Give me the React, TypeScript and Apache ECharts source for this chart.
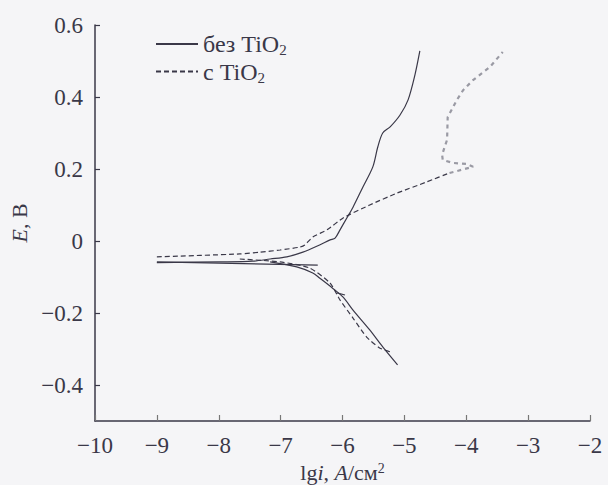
import React, { useEffect, useRef } from "react";
import * as echarts from "echarts";

// lg i (A/cm^2), E (V)
const solidFit: [number, number][] = [
  [-9.0, -0.058], [-6.4, -0.067],
];
const solidAnodic: [number, number][] = [
  [-9.0, -0.06], [-7.98, -0.058], [-7.45, -0.056], [-7.17, -0.05], [-6.9, -0.044],
  [-6.64, -0.031], [-6.37, -0.011], [-6.2, 0.003], [-6.12, 0.008], [-6.04, 0.031],
  [-5.93, 0.064], [-5.83, 0.094], [-5.67, 0.15], [-5.51, 0.206], [-5.43, 0.261],
  [-5.35, 0.3], [-5.23, 0.317], [-5.07, 0.35], [-4.94, 0.392], [-4.83, 0.461],
  [-4.75, 0.528],
];
const solidCathodic: [number, number][] = [
  [-7.17, -0.058], [-6.74, -0.072], [-6.48, -0.089], [-6.37, -0.103], [-6.16, -0.131],
  [-5.99, -0.156], [-5.83, -0.192], [-5.56, -0.247], [-5.35, -0.294], [-5.11, -0.344],
];
const solidMark: [number, number][] = [
  [-6.09, -0.144], [-5.96, -0.15],
];
const dashedAnodic: [number, number][] = [
  [-9.0, -0.044], [-7.66, -0.036], [-7.33, -0.031], [-7.01, -0.025], [-6.69, -0.017],
  [-6.61, -0.011], [-6.48, 0.011], [-6.25, 0.031], [-5.99, 0.064], [-5.56, 0.1],
  [-5.12, 0.133], [-4.64, 0.164], [-4.27, 0.189],
];
const dashedLoop: [number, number][] = [
  [-4.27, 0.189], [-3.89, 0.206], [-3.99, 0.214], [-4.22, 0.217], [-4.38, 0.225],
  [-4.39, 0.239], [-4.35, 0.261], [-4.31, 0.281], [-4.3, 0.344], [-4.15, 0.392],
  [-4.05, 0.419], [-3.89, 0.447], [-3.62, 0.483], [-3.41, 0.525],
];
const dashedCathodic: [number, number][] = [
  [-7.66, -0.05], [-7.01, -0.058], [-6.53, -0.075], [-6.2, -0.117], [-6.04, -0.164],
  [-5.83, -0.214], [-5.61, -0.267], [-5.4, -0.297], [-5.23, -0.308],
];
const yTickValues = [-0.4, -0.2, 0, 0.2, 0.4, 0.6];
const seriesNames = ["без TiO2", "с TiO2"];

const FONT = "Liberation Serif";
const INK = "#3a3848";

export default function App() {
  const ref = useRef<HTMLDivElement>(null);
  useEffect(() => {
    if (!ref.current) return;
    const chart = echarts.init(ref.current, undefined, { renderer: "svg" });
    const solidStyle = { color: INK, width: 1.2, type: "solid" as const };
    const dashStyle = { color: INK, width: 1.2, type: [5, 3] };
    const mk = (name: string, data: [number, number][], lineStyle: any, smooth = 0) => ({
      type: "line",
      name,
      data,
      smooth,
      showSymbol: false,
      symbol: "none",
      lineStyle,
      itemStyle: { color: lineStyle.color },
      silent: true,
    });
    chart.setOption({
      animation: false,
      backgroundColor: "#f5f5f7",
      textStyle: { fontFamily: FONT },
      grid: { left: 95, right: 18, top: 25, bottom: 64, containLabel: false, outerBoundsMode: "none" },
      legend: {
        data: seriesNames,
        orient: "vertical",
        left: 155,
        top: 32,
        padding: 0,
        itemWidth: 42,
        itemHeight: 14,
        itemGap: 2,
        itemStyle: { opacity: 0, borderWidth: 0 },
        formatter: (n: string) => `{n|${n.slice(0, -1)}}{sub|2}`,
        textStyle: {
          color: INK,
          fontFamily: FONT,
          fontSize: 24,
          rich: {
            n: { fontFamily: FONT, fontSize: 24, color: INK, lineHeight: 27 },
            sub: { fontFamily: FONT, fontSize: 15, color: INK, lineHeight: 15, verticalAlign: "bottom" },
          },
        },
      },
      xAxis: {
        type: "value",
        min: -10,
        max: -2,
        interval: 1,
        name: "{n|lg}{i|i}{n|, }{i|A}{n|/см}{sup|2}",
        nameLocation: "middle",
        nameGap: 39,
        nameTextStyle: {
          fontFamily: FONT,
          fontSize: 22,
          color: INK,
          rich: {
            n: { fontFamily: FONT, fontSize: 22, color: INK, lineHeight: 22 },
            i: { fontFamily: FONT, fontSize: 22, color: INK, fontStyle: "italic", lineHeight: 22 },
            sup: { fontFamily: FONT, fontSize: 14, color: INK, lineHeight: 10, verticalAlign: "top" },
          },
        },
        axisLine: { onZero: false, lineStyle: { color: INK, width: 1.5 } },
        axisTick: { inside: true, length: 6, lineStyle: { color: "#777", width: 1.2 } },
        axisLabel: {
          fontFamily: FONT,
          fontSize: 23,
          color: INK,
          margin: 13,
          formatter: (v: number) => (v < 0 ? "\u2212" + Math.abs(v) : String(v)),
        },
        splitLine: { show: false },
      },
      yAxis: {
        type: "value",
        min: -0.5,
        max: 0.6,
        name: "{i|E}{n|, B}",
        nameLocation: "middle",
        nameGap: 58,
        nameTextStyle: {
          fontFamily: FONT,
          fontSize: 22,
          color: INK,
          rich: {
            n: { fontFamily: FONT, fontSize: 22, color: INK },
            i: { fontFamily: FONT, fontSize: 22, color: INK, fontStyle: "italic" },
          },
        },
        axisLine: { show: true, onZero: false, lineStyle: { color: INK, width: 1.5 } },
        axisTick: { show: true, inside: true, length: 5, customValues: yTickValues, lineStyle: { color: INK, width: 1.2 } },
        axisLabel: {
          fontFamily: FONT,
          fontSize: 23,
          color: INK,
          margin: 12,
          customValues: yTickValues,
          formatter: (v: number) =>
            Math.abs(v) < 1e-9 ? "0" : v < 0 ? "\u2212" + Math.abs(v).toFixed(1) : v.toFixed(1),
        },
        splitLine: { show: false },
      },
      series: [
        mk(seriesNames[0], solidAnodic, solidStyle, 0.3),
        mk(seriesNames[0], solidFit, solidStyle),
        mk(seriesNames[0], solidCathodic, solidStyle, 0.3),
        mk(seriesNames[0], solidMark, solidStyle),
        mk(seriesNames[1], dashedAnodic, dashStyle, 0.2),
        mk(seriesNames[1], dashedLoop, { color: "#9a9aa4", width: 2.2, type: [4, 4] }),
        mk(seriesNames[1], dashedCathodic, dashStyle, 0.2),
      ],
    });
    return () => chart.dispose();
  }, []);
  return (
    <div
      ref={ref}
      style={{ position: "fixed", left: 0, top: 0, width: 608, height: 485, background: "#f5f5f7" }}
    />
  );
}
